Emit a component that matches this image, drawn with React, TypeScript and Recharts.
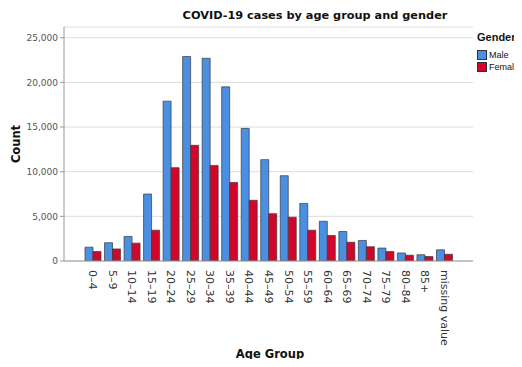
import React from 'react'
import { BarChart, Bar, XAxis, YAxis, CartesianGrid } from 'recharts'

const AGE_GROUPS = ['0-4', '5-9', '10-14', '15-19', '20-24', '25-29', '30-34', '35-39', '40-44', '45-49', '50-54', '55-59', '60-64', '65-69', '70-74', '75-79', '80-84', '85+', 'missing value']
const MALE = [1550, 2050, 2750, 7500, 17900, 22900, 22700, 19500, 14850, 11350, 9550, 6450, 4450, 3300, 2300, 1450, 900, 700, 1250]
const FEMALE = [1050, 1350, 2000, 3450, 10450, 12950, 10700, 8800, 6800, 5300, 4900, 3450, 2850, 2100, 1600, 1050, 650, 500, 750]
const Y_TICKS = [0, 5000, 10000, 15000, 20000, 25000]

const MALE_COLOR = '#4a8fe2'
const FEMALE_COLOR = '#d2062b'
const FONT = '"DejaVu Sans", sans-serif'
const LEGEND_FONT = '"Liberation Sans", Arial, sans-serif'

const data = AGE_GROUPS.map((g, i) => ({ group: g, male: MALE[i], female: FEMALE[i] }))

function AgeTick(props: any) {
  const { x, y, payload } = props
  // SPSS style: labels turned 90 degrees, read top to bottom
  const label = String(payload.value).replace('-', '\u2013')
  return (
    <text
      x={x}
      y={y + 1}
      transform={`rotate(90, ${x}, ${y + 1})`}
      textAnchor="start"
      dominantBaseline="central"
      fontSize={11}
      fontFamily={FONT}
      fill="#333"
    >
      {label}
    </text>
  )
}

export default function App() {
  return (
    <div style={{ position: 'relative', width: 522, height: 367, margin: -8, background: '#fff', overflow: 'hidden', fontFamily: FONT }}>
      <BarChart
        width={522}
        height={367}
        data={data}
        margin={{ top: 27, right: 49, left: 10, bottom: 16 }}
        barCategoryGap={2}
        barGap={0}
      >
        <CartesianGrid vertical={false} stroke="#dcdcdc" />
        <XAxis
          dataKey="group"
          interval={0}
          height={90}
          padding={{ left: 19, right: 19 }}
          axisLine={{ stroke: '#999' }}
          tickLine={false}
          tick={<AgeTick />}
        />
        <YAxis
          width={54}
          domain={[0, 26200]}
          ticks={Y_TICKS}
          allowDataOverflow
          tickFormatter={(v: number) => v.toLocaleString('en-US')}
          axisLine={{ stroke: '#999' }}
          tickLine={{ stroke: '#999' }}
          tickSize={4}
          tick={{ fontSize: 9, fill: '#555', fontFamily: FONT }}
        />
        <Bar dataKey="male" name="Male" fill={MALE_COLOR} stroke="#3a3a3a" strokeWidth={0.7} isAnimationActive={false} />
        <Bar dataKey="female" name="Female" fill={FEMALE_COLOR} stroke="#3a3a3a" strokeWidth={0.7} isAnimationActive={false} />
      </BarChart>

      <div style={{ position: 'absolute', left: 0, width: 630, top: 9, textAlign: 'center', fontSize: 11.3, fontWeight: 'bold', color: '#111', whiteSpace: 'nowrap' }}>
        COVID-19 cases by age group and gender
      </div>
      <div style={{ position: 'absolute', left: 16, top: 144, transform: 'translate(-50%, -50%) rotate(-90deg)', fontSize: 11.5, fontWeight: 'bold', color: '#111' }}>
        Count
      </div>
      <div style={{ position: 'absolute', left: 170, width: 200, top: 347, lineHeight: '14px', textAlign: 'center', fontSize: 11.5, fontWeight: 'bold', color: '#111' }}>
        Age Group
      </div>

      <div style={{ position: 'absolute', left: 477, top: 31, whiteSpace: 'nowrap', color: '#111', fontFamily: LEGEND_FONT }}>
        <div style={{ fontSize: 11, fontWeight: 'bold', lineHeight: '13px', marginBottom: 5 }}>Gender</div>
        {[['Male', MALE_COLOR], ['Female', FEMALE_COLOR]].map(([name, color]) => (
          <div key={name} style={{ display: 'flex', alignItems: 'center', height: 12, fontSize: 9 }}>
            <span style={{ display: 'inline-block', width: 8, height: 8, background: color, border: '1px solid #333', marginRight: 2 }} />
            {name}
          </div>
        ))}
      </div>
    </div>
  )
}
